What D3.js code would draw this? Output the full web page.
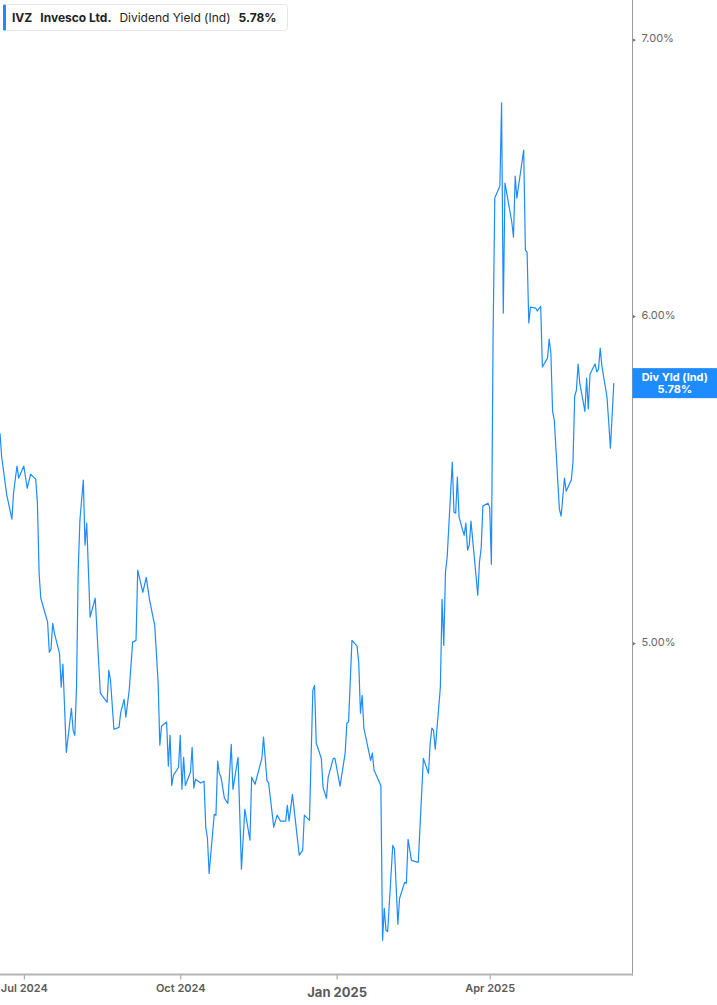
<!DOCTYPE html>
<html>
<head>
<meta charset="utf-8">
<script src="https://cdn.jsdelivr.net/npm/d3@7/dist/d3.min.js"></script>
<style>
  html, body { margin: 0; padding: 0; background: #fff; }
  svg { display: block; font-family: Inter, "Noto Sans", "Liberation Sans", sans-serif; }
</style>
</head>
<body>
<svg id="chart" width="717" height="1005"></svg>
<script>
const ticker = "IVZ";
const company = "Invesco Ltd.";
const metric = "Dividend Yield (Ind)";
const lastLabel = "5.78%";
const tagLine1 = "Div Yld (Ind)";

const dates = [
"2024-06-17","2024-06-18","2024-06-21","2024-06-24","2024-06-25","2024-06-27","2024-06-28","2024-07-01","2024-07-03","2024-07-05",
"2024-07-08","2024-07-09","2024-07-10","2024-07-11","2024-07-15","2024-07-16","2024-07-17","2024-07-18","2024-07-19","2024-07-22",
"2024-07-23","2024-07-24","2024-07-26","2024-07-29","2024-07-30","2024-07-31","2024-08-01","2024-08-02","2024-08-03","2024-08-05",
"2024-08-06","2024-08-07","2024-08-09","2024-08-12","2024-08-15","2024-08-19","2024-08-20","2024-08-21","2024-08-23","2024-08-26",
"2024-08-27","2024-08-29","2024-08-30","2024-09-01","2024-09-03","2024-09-05","2024-09-06","2024-09-09","2024-09-11","2024-09-13",
"2024-09-16","2024-09-18","2024-09-19","2024-09-20","2024-09-23","2024-09-24","2024-09-25","2024-09-26","2024-09-27","2024-09-30",
"2024-10-01","2024-10-02","2024-10-03","2024-10-04","2024-10-07","2024-10-08","2024-10-09","2024-10-10","2024-10-13","2024-10-15",
"2024-10-16","2024-10-17","2024-10-18","2024-10-21","2024-10-22","2024-10-23","2024-10-24","2024-10-25","2024-10-27","2024-10-29",
"2024-10-31","2024-11-01","2024-11-04","2024-11-06","2024-11-08","2024-11-11","2024-11-12","2024-11-14","2024-11-18","2024-11-19",
"2024-11-21","2024-11-22","2024-11-25","2024-11-27","2024-11-29","2024-12-02","2024-12-03","2024-12-04","2024-12-06","2024-12-10",
"2024-12-12","2024-12-13","2024-12-16","2024-12-18","2024-12-19","2024-12-20","2024-12-23","2024-12-24","2024-12-26","2024-12-27",
"2024-12-30","2024-12-31","2025-01-03","2025-01-06","2025-01-07","2025-01-08","2025-01-10","2025-01-13","2025-01-14","2025-01-15",
"2025-01-16","2025-01-17","2025-01-21","2025-01-22","2025-01-23","2025-01-27","2025-01-28","2025-01-29","2025-01-30","2025-01-31",
"2025-02-03","2025-02-04","2025-02-06","2025-02-07","2025-02-10","2025-02-11","2025-02-12","2025-02-14","2025-02-18","2025-02-21",
"2025-02-24","2025-02-25","2025-02-26","2025-02-27","2025-02-28","2025-03-03","2025-03-04","2025-03-05","2025-03-06","2025-03-07",
"2025-03-10","2025-03-11","2025-03-12","2025-03-13","2025-03-14","2025-03-17","2025-03-18","2025-03-19","2025-03-20","2025-03-21",
"2025-03-25","2025-03-26","2025-03-27","2025-03-28","2025-03-31","2025-04-01","2025-04-02","2025-04-03","2025-04-04","2025-04-07",
"2025-04-08","2025-04-09","2025-04-10","2025-04-14","2025-04-15","2025-04-16","2025-04-17","2025-04-21","2025-04-22","2025-04-23",
"2025-04-24","2025-04-25","2025-04-28","2025-04-29","2025-05-01","2025-05-02","2025-05-05","2025-05-06","2025-05-07","2025-05-08",
"2025-05-09","2025-05-12","2025-05-13","2025-05-15","2025-05-16","2025-05-19","2025-05-20","2025-05-21","2025-05-22","2025-05-23",
"2025-05-24","2025-05-27","2025-05-28","2025-05-29","2025-05-30","2025-06-02","2025-06-03","2025-06-04","2025-06-05","2025-06-06",
"2025-06-09","2025-06-10","2025-06-11","2025-06-13"
];

const yields = [
5.621,5.546,5.430,5.358,5.439,5.519,5.482,5.519,5.451,5.494,
5.479,5.406,5.199,5.127,5.059,4.975,4.983,5.056,5.028,4.972,
4.879,4.942,4.705,4.822,4.763,4.750,4.879,5.208,5.355,5.476,
5.281,5.346,5.073,5.127,4.863,4.838,4.925,4.898,4.766,4.771,
4.811,4.846,4.798,4.871,5.003,5.008,5.208,5.144,5.187,5.121,
5.050,4.892,4.724,4.774,4.785,4.669,4.750,4.619,4.645,4.666,
4.750,4.609,4.692,4.619,4.653,4.718,4.612,4.635,4.625,4.630,
4.513,4.485,4.398,4.545,4.543,4.682,4.650,4.640,4.586,4.573,
4.726,4.609,4.692,4.408,4.558,4.480,4.640,4.622,4.689,4.745,
4.632,4.625,4.513,4.543,4.528,4.528,4.568,4.528,4.596,4.443,
4.455,4.543,4.530,4.871,4.884,4.729,4.689,4.614,4.586,4.640,
4.689,4.689,4.617,4.703,4.782,4.785,5.008,4.992,4.945,4.809,
4.857,4.769,4.684,4.703,4.658,4.619,4.237,4.313,4.261,4.258,
4.467,4.458,4.275,4.337,4.376,4.374,4.482,4.430,4.425,4.689,
4.650,4.729,4.769,4.763,4.713,4.879,5.124,4.994,5.202,5.246,
5.531,5.379,5.376,5.485,5.364,5.310,5.346,5.266,5.281,5.352,
5.136,5.231,5.272,5.397,5.406,5.394,5.225,5.930,6.408,6.451,
6.757,6.010,6.462,6.323,6.270,6.487,6.408,6.582,6.225,6.218,
5.977,6.030,6.027,6.017,6.033,5.832,5.861,5.924,5.877,5.690,
5.662,5.388,5.367,5.482,5.442,5.476,5.531,5.738,5.757,5.842,
5.780,5.690,5.796,5.697,5.809,5.842,5.816,5.825,5.894,5.835,
5.735,5.656,5.574,5.780
];

const xTickDates = ["2024-07-01","2024-10-01","2025-01-01","2025-04-01"];
const xTickLabels = ["Jul 2024","Oct 2024","Jan 2025","Apr 2025"];
const yTickValues = [5, 6, 7];
const yTickLabels = ["5.00%","6.00%","7.00%"];
const xDomain = ["2024-06-17","2025-06-24"];
const yDomain = [4.157, 7.156];

const parse = d3.utcParse("%Y-%m-%d");
const data = dates.map((d, i) => ({ date: parse(d), value: yields[i] }));

const W = 717, H = 1005;
const plotRight = 632.5, plotBottom = 974.5;
const blue = "#1e8bff";

const svg = d3.select("#chart");

const x = d3.scaleUtc().domain(xDomain.map(parse)).range([0, plotRight]);
const y = d3.scaleLog().domain(yDomain).range([plotBottom, 0]);

svg.append("defs").append("clipPath").attr("id", "plotclip")
  .append("rect").attr("x", 0).attr("y", 0).attr("width", plotRight).attr("height", plotBottom);

const line = d3.line().x(d => x(d.date)).y(d => y(d.value));
svg.append("path")
  .datum(data)
  .attr("clip-path", "url(#plotclip)")
  .attr("fill", "none")
  .attr("stroke", blue)
  .attr("stroke-width", 1.2)
  .attr("stroke-linejoin", "round")
  .attr("d", line);

svg.append("line")
  .attr("x1", plotRight).attr("x2", plotRight)
  .attr("y1", 0).attr("y2", plotBottom + 1)
  .attr("stroke", "#9a9a9a").attr("stroke-width", 1);

const xAxis = d3.axisBottom(x)
  .tickValues(xTickDates.map(parse))
  .tickSize(5)
  .tickSizeOuter(0)
  .tickFormat((d, i) => xTickLabels[i]);
const gx = svg.append("g").attr("transform", `translate(0,${plotBottom})`).call(xAxis);
gx.select(".domain").remove();
gx.selectAll(".tick line").attr("stroke", "#9a9a9a").attr("stroke-width", 1);
gx.selectAll(".tick text")
  .attr("fill", "#5a5a5a")
  .attr("font-size", (d, i) => xTickLabels[i] === "Jan 2025" ? 13 : 11)
  .attr("font-weight", (d, i) => xTickLabels[i] === "Jan 2025" ? 700 : 600)
  .attr("font-family", "Inter, 'Noto Sans', sans-serif")
  .attr("dy", (d, i) => xTickLabels[i] === "Jan 2025" ? "0.95em" : "0.65em")
  .attr("y", 10);
svg.append("line")
  .attr("x1", 0).attr("x2", plotRight + 0.5)
  .attr("y1", plotBottom).attr("y2", plotBottom)
  .attr("stroke", "#b4b4b4").attr("stroke-width", 2);

const yAxis = d3.axisRight(y)
  .tickValues(yTickValues)
  .tickSize(0)
  .tickPadding(9)
  .tickFormat((d, i) => yTickLabels[i]);
const gy = svg.append("g").attr("transform", `translate(${plotRight},0)`).call(yAxis);
gy.select(".domain").remove();
gy.selectAll(".tick text")
  .attr("fill", "#666")
  .attr("font-size", 11)
  .attr("dy", "0.2em")
  .attr("font-family", "Inter, 'Noto Sans', sans-serif");
gy.selectAll(".tick").append("path")
  .attr("d", "M0.5,-1.6L3.5,0L0.5,1.6Z")
  .attr("fill", "#777");

const lastV = data[data.length - 1].value;
const tagY = y(lastV);
const tag = svg.append("g");
tag.append("rect")
  .attr("x", plotRight).attr("y", tagY - 15)
  .attr("width", W - plotRight).attr("height", 30)
  .attr("fill", blue);
tag.append("text")
  .attr("x", plotRight + (W - plotRight) / 2).attr("y", tagY - 2.5)
  .attr("text-anchor", "middle").attr("fill", "#fff")
  .attr("font-size", 11).attr("font-weight", 700)
  .text(tagLine1);
tag.append("text")
  .attr("x", plotRight + (W - plotRight) / 2).attr("y", tagY + 9.5)
  .attr("text-anchor", "middle").attr("fill", "#fff")
  .attr("font-size", 11).attr("font-weight", 700)
  .text(lastLabel);

const leg = svg.append("g");
leg.append("rect")
  .attr("x", 3.5).attr("y", 4.5).attr("width", 284).attr("height", 26)
  .attr("rx", 3).attr("fill", "#fff").attr("stroke", "#e6e6e6");
leg.append("rect")
  .attr("x", 3).attr("y", 4.5).attr("width", 3).attr("height", 26)
  .attr("rx", 1).attr("fill", blue);
const lt = leg.append("text").attr("x", 12).attr("y", 22).attr("font-size", 12).attr("fill", "#222");
lt.append("tspan").attr("font-weight", 700).text(ticker);
lt.append("tspan").attr("dx", 8).attr("font-weight", 700).text(company);
lt.append("tspan").attr("dx", 8).attr("font-weight", 400).text(metric);
lt.append("tspan").attr("dx", 8).attr("font-weight", 700).text(lastLabel);
</script>
</body>
</html>
